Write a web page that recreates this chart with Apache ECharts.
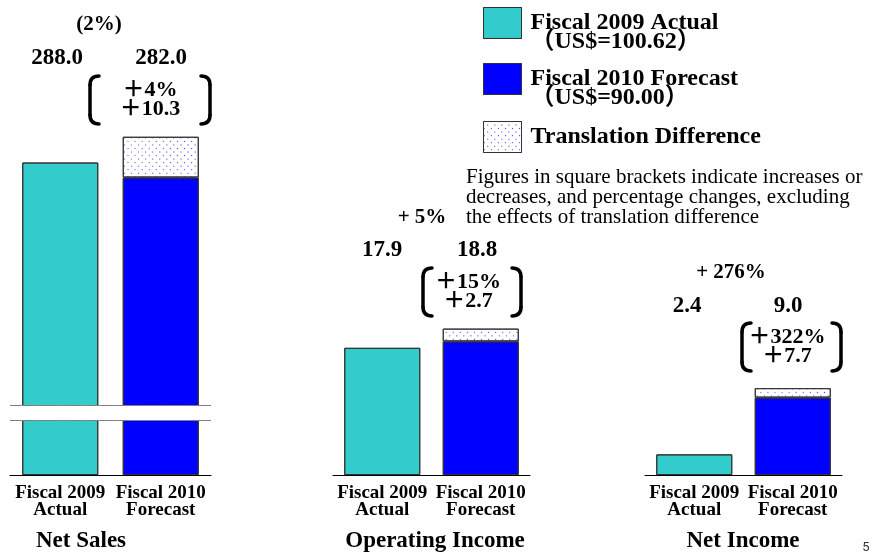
<!DOCTYPE html>
<html>
<head>
<meta charset="utf-8">
<script src="https://cdn.jsdelivr.net/npm/echarts@6/dist/echarts.min.js"></script>
<style>
  * { margin: 0; padding: 0; }
  #main { width: 872px; height: 553px; background: #fff; }
</style>
</head>
<body>
<div id="main"></div>
<script>
// data (billions of yen)
var categories = ["Fiscal 2009\nActual", "Fiscal 2010\nForecast"];
var panelTitles = ["Net Sales", "Operating Income", "Net Income"];
var actual2009 = [288.0, 17.9, 2.4];
var forecast2010 = [282.0, 18.8, 9.0];
// translation difference, stacked on top of the forecast bar
var translationDiff = [16.3, 1.8, 1.1];
var totalChange = ["(2%)", "+ 5%", "+ 276%"];
var exTranslationPct = ["＋4%", "＋15%", "＋322%"];
var exTranslationAmt = ["＋10.3", "＋2.7", "＋7.7"];
var legendNames = ["Fiscal 2009 Actual", "Fiscal 2010 Forecast", "Translation Difference"];
var legendSub = ["（US$=100.62）", "（US$=90.00）", ""];
var note = "Figures in square brackets indicate increases or\ndecreases, and percentage changes, excluding\nthe effects of translation difference";

var SERIF = '"Liberation Serif", "Times New Roman", "Noto Sans CJK JP", serif';
var TEAL = "#33CCCC";
var BLUE = "#0000FF";

// layout of the three small panels
var panels = [
  { left: 10, width: 201, top: 100, max: 313 },
  { left: 333, width: 197, top: 200, max: 38.7 },
  { left: 645, width: 197, top: 300, max: 20.35 }
];
// label positions [x, y]
var changePos = [[99, 25], [422, 218], [731, 273]];
var valuePos = [[[57, 58], [161, 58]], [[382, 250], [477, 250]], [[687, 306], [788, 306]]];
var bracketBox = [[88, 75, 212, 125], [421, 267, 523, 317], [740, 322, 843, 372]];
var bracketTextX = [150, 468, 787];
var titleX = [81, 435, 743];
var legendTops = [-8, 48, 121];

var myChart = echarts.init(document.getElementById("main"));

var grids = [], xAxes = [], yAxes = [], series = [], graphics = [];

// one side of a bracket: vertical stroke with curled ends
function bracketSide(x, y0, y1, dir) {
  var st = { stroke: "#000", lineWidth: 3.5, lineCap: "round", fill: null };
  return [
    { type: "line", shape: { x1: x, y1: y0 + 9, x2: x, y2: y1 - 9 }, style: st },
    { type: "bezierCurve", shape: { x1: x, y1: y0 + 9, cpx1: x, cpy1: y0, x2: x + dir * 9, y2: y0 }, style: st },
    { type: "bezierCurve", shape: { x1: x, y1: y1 - 9, cpx1: x, cpy1: y1, x2: x + dir * 9, y2: y1 }, style: st }
  ];
}

panels.forEach(function (p, i) {
  grids.push({ left: p.left, width: p.width, top: p.top, bottom: 78 });
  xAxes.push({
    type: "category",
    gridIndex: i,
    data: categories,
    axisLine: { lineStyle: { color: "#000", width: 1 } },
    axisTick: { show: false },
    axisLabel: {
      interval: 0,
      margin: 10,
      color: "#000",
      fontFamily: SERIF,
      fontWeight: "bold",
      fontSize: 19,
      lineHeight: 17
    }
  });
  var y = {
    type: "value",
    gridIndex: i,
    min: 0,
    max: p.max,
    axisLine: { show: false },
    axisTick: { show: false },
    axisLabel: { show: false },
    splitLine: { show: false }
  };
  if (i === 0) {
    // net sales axis is broken between the two lines
    y.breaks = [{ start: 22, end: 191, gap: "4%" }];
    y.breakArea = {
      show: true,
      itemStyle: { color: "#fff", borderColor: "#000", borderWidth: 1, borderType: "solid", opacity: 1 },
      zigzagAmplitude: 0,
      zigzagZ: 100,
      expandOnClick: false
    };
  }
  yAxes.push(y);

  var common = {
    type: "bar",
    xAxisIndex: i,
    yAxisIndex: i,
    stack: "p" + i,
    barWidth: 76,
    silent: true
  };
  series.push(Object.assign({}, common, {
    name: legendNames[0],
    data: [actual2009[i], "-"],
    itemStyle: { color: TEAL, borderColor: "#333", borderWidth: 1, decal: { color: "rgba(0,0,0,0)" } }
  }));
  series.push(Object.assign({}, common, {
    name: legendNames[1],
    data: ["-", forecast2010[i]],
    itemStyle: { color: BLUE, borderColor: "#333", borderWidth: 1, decal: { color: "rgba(0,0,0,0)" } }
  }));
  series.push(Object.assign({}, common, {
    name: legendNames[2],
    data: ["-", translationDiff[i]],
    itemStyle: {
      color: "#fff",
      borderColor: "#333",
      borderWidth: 1,
      decal: { symbol: "rect", symbolSize: 1, dashArrayX: [1, 4], dashArrayY: [1, 4], color: "#3a3aff" }
    }
  }));

  // texts above each panel
  graphics.push({
    type: "text", x: changePos[i][0], y: changePos[i][1],
    style: { text: totalChange[i], font: "bold 21px " + SERIF, fill: "#000", align: "center", verticalAlign: "middle" }
  });
  [actual2009[i], forecast2010[i]].forEach(function (v, k) {
    graphics.push({
      type: "text", x: valuePos[i][k][0], y: valuePos[i][k][1],
      style: { text: v.toFixed(1), font: "bold 23px " + SERIF, fill: "#000", align: "center", verticalAlign: "middle" }
    });
  });
  var b = bracketBox[i];
  graphics = graphics.concat(bracketSide(b[0] + 2, b[1] + 1, b[3] - 1, 1));
  graphics = graphics.concat(bracketSide(b[2] - 2, b[1] + 1, b[3] - 1, -1));
  graphics.push({
    type: "text", x: bracketTextX[i], y: (b[1] + b[3]) / 2,
    style: {
      text: exTranslationPct[i] + "\n" + exTranslationAmt[i],
      font: "bold 22px " + SERIF, lineHeight: 19, fill: "#000", align: "center", verticalAlign: "middle"
    }
  });
  graphics.push({
    type: "text", x: titleX[i], y: 541,
    style: { text: panelTitles[i], font: "bold 23px " + SERIF, fill: "#000", align: "center", verticalAlign: "middle" }
  });
});

graphics.push({
  type: "text", x: 466, y: 167,
  style: { text: note, font: "21px " + SERIF, lineHeight: 20, fill: "#000" }
});
graphics.push({
  type: "text", x: 866, y: 548,
  style: { text: "5", font: "13px Roboto, sans-serif", fill: "#333", align: "center", verticalAlign: "middle" }
});

// one legend per entry so each box sits where the original has it
var legends = legendNames.map(function (name, i) {
  return {
    orient: "vertical",
    left: 483,
    top: legendTops[i],
    padding: 0,
    itemWidth: 38,
    itemHeight: 31,
    selectedMode: false,
    icon: "rect",
    itemStyle: { borderColor: "#333", borderWidth: 1 },
    textStyle: { fontFamily: SERIF, fontWeight: "bold", fontSize: 24, lineHeight: 19, color: "#000", padding: [0, 0, 0, 4] },
    // a blank first line pushes the two-line entries down against the box
    formatter: function (n) {
      return legendSub[i] ? "\n" + n + "\n" + legendSub[i] : n;
    },
    data: [name]
  };
});

myChart.setOption({
  animation: false,
  aria: { enabled: true, decal: { show: true } },
  legend: legends,
  grid: grids,
  xAxis: xAxes,
  yAxis: yAxes,
  series: series,
  graphic: graphics
});
</script>
</body>
</html>
